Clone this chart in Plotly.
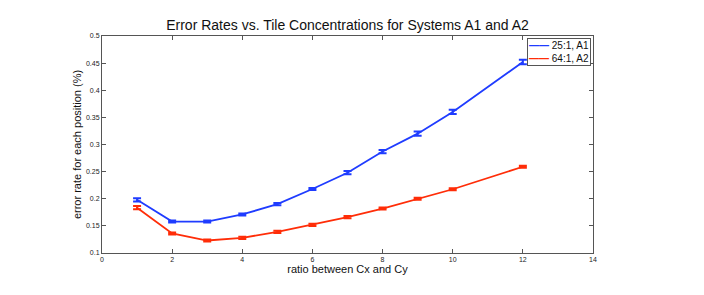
import plotly.graph_objects as go

ratios = [1, 2, 3, 4, 5, 6, 7, 8, 9, 10, 12]
a1_err_rate = [0.198, 0.158, 0.158, 0.171, 0.190, 0.218, 0.248, 0.287, 0.320, 0.360, 0.452]
a2_err_rate = [0.1835, 0.136, 0.123, 0.128, 0.139, 0.152, 0.166, 0.182, 0.200, 0.2175, 0.259]
a1_sd = [0.003, 0.002, 0.002, 0.002, 0.002, 0.002, 0.003, 0.003, 0.004, 0.004, 0.004]
a2_sd = [0.003, 0.002, 0.002, 0.002, 0.002, 0.002, 0.002, 0.002, 0.002, 0.002, 0.002]
series_names = ["25:1, A1", "64:1, A2"]
x_ticks = [0, 2, 4, 6, 8, 10, 12, 14]
y_ticks = [0.1, 0.15, 0.2, 0.25, 0.3, 0.35, 0.4, 0.45, 0.5]
y_tick_text = ["0.1", "0.15", "0.2", "0.25", "0.3", "0.35", "0.4", "0.45", "0.5"]

BLUE = "#1f3cff"
RED = "#ff2d08"
COLORS = [BLUE, RED]
FONT = "Liberation Sans, Arial, sans-serif"

# page body has an 8px margin; figure is sized/offset to compensate
W, H = 696, 287
L, R, T, B = 94, 111, 28, 42

fig = go.Figure()
for name, vals, sd, col in [(series_names[0], a1_err_rate, a1_sd, BLUE),
                            (series_names[1], a2_err_rate, a2_sd, RED)]:
    fig.add_trace(go.Scatter(
        x=ratios, y=vals, name=name, mode="lines",
        line=dict(color=col, width=1.8),
        error_y=dict(type="data", array=sd, visible=True, color=col, thickness=2, width=4),
    ))

axis_common = dict(
    showline=True, linecolor="#555555", linewidth=1, mirror="ticks",
    ticks="inside", ticklen=4, tickcolor="#555555", tickwidth=1,
    showgrid=False, zeroline=False,
    tickfont=dict(family=FONT, size=7, color="#222222"),
)

# compact MATLAB-style legend box (text based)
legend_text = "<br>".join(
    f"<span style='color:{c}'><b>——</b></span> {n}" for n, c in zip(series_names, COLORS)
)

fig.update_layout(
    width=W, height=H,
    margin=dict(l=L, r=R, t=T, b=B, autoexpand=False),
    paper_bgcolor="white", plot_bgcolor="white",
    showlegend=False,
    title=dict(text="Error Rates vs. Tile Concentrations for Systems A1 and A2",
               x=(L + (W - R)) / 2 / W, xanchor="center", y=1 - 17 / H, yanchor="middle",
               font=dict(family=FONT, size=14, color="#111111")),
    xaxis=dict(range=[0, 14], tickvals=x_ticks,
               title=dict(text="ratio between Cx and Cy", standoff=0,
                          font=dict(family=FONT, size=11, color="#111111")),
               **axis_common),
    yaxis=dict(range=[0.1, 0.5], tickvals=y_ticks, ticktext=y_tick_text,
               title=dict(text="error rate for each position (%)", standoff=2,
                          font=dict(family=FONT, size=11, color="#111111")),
               **axis_common),
    annotations=[dict(
        text=legend_text, xref="paper", yref="paper", x=0.996, y=0.99,
        xanchor="right", yanchor="top", showarrow=False, align="left",
        bgcolor="white", bordercolor="#555555", borderwidth=1, borderpad=1,
        font=dict(family=FONT, size=10, color="#111111"),
    )],
)

fig.write_html("out.html")
